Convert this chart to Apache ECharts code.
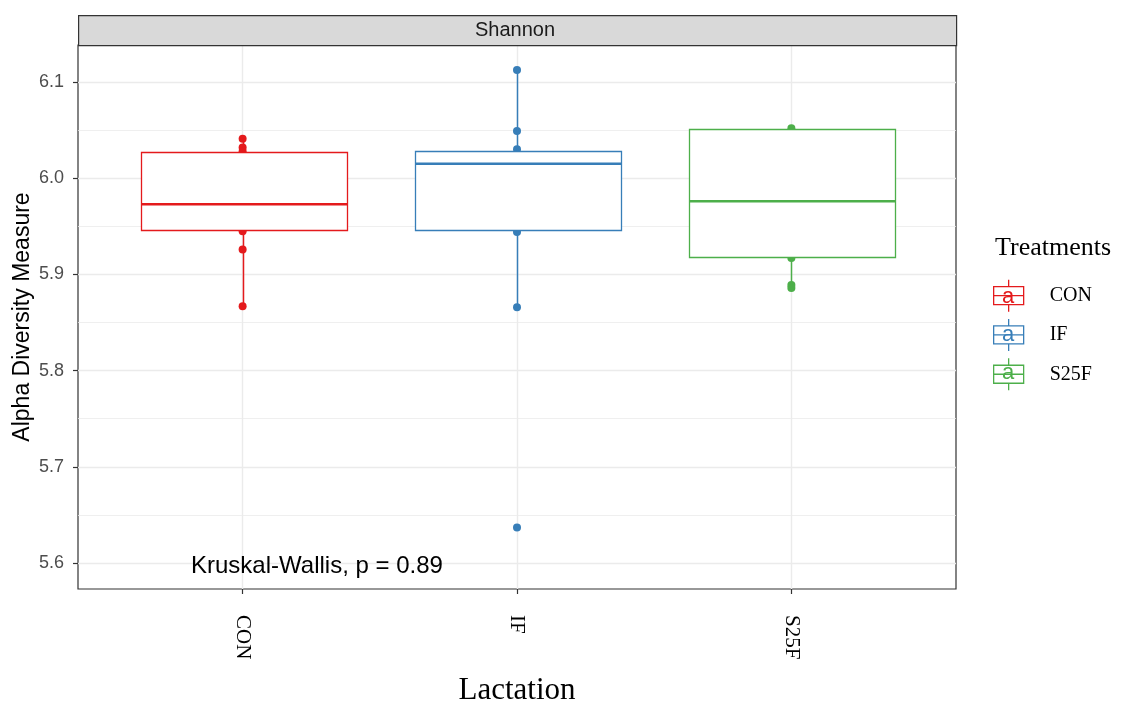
<!DOCTYPE html>
<html>
<head>
<meta charset="utf-8">
<script src="https://cdn.jsdelivr.net/npm/echarts@6/dist/echarts.min.js"></script>
<style>html,body{margin:0;padding:0;background:#fff}#c{width:1122px;height:703px}</style>
</head>
<body>
<div id="c"></div>
<script>
// ---- data ----
const categories = ['CON', 'IF', 'S25F'];
const colors = ['#E41A1C', '#377EB8', '#4DAF4A'];
// box stats: [x, lowerWhisker, Q1, median, Q3, upperWhisker]
const boxCON  = [1, 5.867, 5.946, 5.973, 6.027, 6.041];
const boxIF   = [2, 5.866, 5.9455, 6.015, 6.028, 6.1125];
const boxS25F = [3, 5.886, 5.918, 5.976, 6.051, 6.052];
// visible sample points
const ptsCON  = [6.041, 6.032, 6.028, 5.945, 5.926, 5.867];
const ptsIF   = [6.1125, 6.049, 6.030, 5.944, 5.866, 5.637];
const ptsS25F = [6.052, 5.917, 5.889, 5.886];
const yTicks = [5.6, 5.7, 5.8, 5.9, 6.0, 6.1];
const yMinor = [5.65, 5.75, 5.85, 5.95, 6.05];
const xTicks = [1, 2, 3];
const annotation = 'Kruskal-Wallis, p = 0.89';

const SANS = "'Liberation Sans', Arial, sans-serif";
const SERIF = "'Liberation Serif', 'Times New Roman', serif";
const BOX_W = 0.75;

const boxes = [boxCON, boxIF, boxS25F];
const pts = [ptsCON, ptsIF, ptsS25F];

function renderBox(params, api) {
  const x = api.value(0);
  const lo = api.coord([x, api.value(1)]);
  const q1 = api.coord([x, api.value(2)]);
  const md = api.coord([x, api.value(3)]);
  const q3 = api.coord([x, api.value(4)]);
  const hi = api.coord([x, api.value(5)]);
  const w = api.size([BOX_W, 0])[0];
  const color = api.visual('color');
  const cx = Math.round(q1[0]) + 0.5;
  const bx = Math.round(cx - w / 2) + 0.5;
  const bw = Math.round(w);
  return {
    type: 'group',
    children: [
      {type: 'line', shape: {x1: cx, y1: lo[1], x2: cx, y2: q1[1]}, style: {stroke: color, lineWidth: 1.5}},
      {type: 'line', shape: {x1: cx, y1: q3[1], x2: cx, y2: hi[1]}, style: {stroke: color, lineWidth: 1.5}},
      {type: 'rect', shape: {x: bx, y: Math.round(q3[1]) + 0.5, width: bw, height: Math.round(q1[1] - q3[1])},
        style: {fill: '#fff', stroke: color, lineWidth: 1.3}},
      {type: 'line', shape: {x1: bx, y1: md[1], x2: bx + bw, y2: md[1]},
        style: {stroke: color, lineWidth: 2.6}}
    ]
  };
}

const series = [];
// grid lines (drawn through the axes' scales)
series.push({
  type: 'scatter', name: '_grid', data: [], z: 1, silent: true,
  markLine: {
    z: 1, silent: true, symbol: 'none', label: {show: false}, animation: false,
    emphasis: {disabled: true},
    data: [
      ...yMinor.map(v => ({yAxis: v, lineStyle: {color: '#EBEBEB', width: 0.8, type: 'solid'}})),
      ...yTicks.map(v => ({yAxis: v, lineStyle: {color: '#EBEBEB', width: 1.4, type: 'solid'}})),
      ...xTicks.map(v => ({xAxis: v, lineStyle: {color: '#EBEBEB', width: 1.4, type: 'solid'}}))
    ]
  }
});
categories.forEach((c, i) => {
  series.push({
    type: 'scatter', name: c, z: 2, symbolSize: 8,
    itemStyle: {color: colors[i], opacity: 1},
    data: pts[i].map(v => [xTicks[i], v]),
    animation: false
  });
  series.push({
    type: 'custom', name: c, z: 3, clip: false,
    itemStyle: {color: colors[i]},
    dimensions: ['x', 'lo', 'q1', 'med', 'q3', 'hi'],
    encode: {x: 0, y: [1, 2, 3, 4, 5]},
    renderItem: renderBox,
    data: [boxes[i]],
    animation: false
  });
});

const legendIcon = 'path://M0,7 L30,7 L30,25 L0,25 Z M0,16 L30,16 M15,0 L15,7 M15,25 L15,32';

const option = {
  animation: false,
  grid: {left: 78, top: 45, width: 878, height: 544, show: true, borderColor: '#333', borderWidth: 1.2,
    backgroundColor: 'transparent', containLabel: false, outerBoundsMode: 'none'},
  xAxis: {
    type: 'value', min: 0.4, max: 3.6,
    name: 'Lactation', nameLocation: 'middle', nameGap: 86, nameMoveOverlap: false,
    nameTextStyle: {fontFamily: SERIF, fontSize: 31, color: '#000'},
    axisLine: {show: false},
    splitLine: {show: false},
    axisTick: {show: true, length: 5, customValues: xTicks, lineStyle: {color: '#333', width: 1.2}},
    axisLabel: {customValues: xTicks, rotate: -90, margin: 26, fontFamily: SERIF, fontSize: 21, color: '#000',
      formatter: v => categories[Math.round(v) - 1] || ''}
  },
  yAxis: {
    type: 'value', min: 5.573, max: 6.1385,
    name: 'Alpha Diversity Measure', nameLocation: 'middle', nameGap: 44, nameMoveOverlap: false,
    nameTextStyle: {fontFamily: SANS, fontSize: 23, color: '#000'},
    axisLine: {show: false},
    splitLine: {show: false},
    axisTick: {show: true, length: 5, customValues: yTicks, lineStyle: {color: '#333', width: 1.2}},
    axisLabel: {customValues: yTicks, margin: 14, fontFamily: SANS, fontSize: 18, color: '#4D4D4D',
      formatter: v => v.toFixed(1)}
  },
  legend: {
    orient: 'vertical', left: 993, top: 279, padding: 0, itemWidth: 30, itemHeight: 32, itemGap: 6,
    icon: legendIcon, selectedMode: false,
    textStyle: {fontFamily: SERIF, fontSize: 20, color: '#000', padding: [0, 0, 0, 21]},
    data: categories.map((c, i) => ({name: c, itemStyle: {color: '#fff', borderColor: colors[i], borderWidth: 1.3}}))
  },
  graphic: [
    {type: 'rect', left: 78, top: 15, shape: {width: 878, height: 30}, style: {fill: '#D9D9D9', stroke: '#333', lineWidth: 1.2}, z: 10},
    {type: 'text', x: 515, y: 30, style: {text: 'Shannon', fontFamily: SANS, fontSize: 20, fill: '#1A1A1A', align: 'center', verticalAlign: 'middle'}, z: 11},
    {type: 'text', x: 191, y: 566, style: {text: annotation, fontFamily: SANS, fontSize: 24, fill: '#000', align: 'left', verticalAlign: 'middle'}, z: 11},
    {type: 'text', x: 995, y: 248, style: {text: 'Treatments', fontFamily: SERIF, fontSize: 26, fill: '#000', align: 'left', verticalAlign: 'middle'}, z: 11},
    ...categories.map((c, i) => ({type: 'text', x: 1008, y: 297 + 38 * i, style: {text: 'a', fontFamily: SANS, fontSize: 22, fill: colors[i], align: 'center', verticalAlign: 'middle'}, z: 11}))
  ],
  series: series
};

const chart = echarts.init(document.getElementById('c'), null, {renderer: 'canvas'});
chart.setOption(option);
</script>
</body>
</html>
